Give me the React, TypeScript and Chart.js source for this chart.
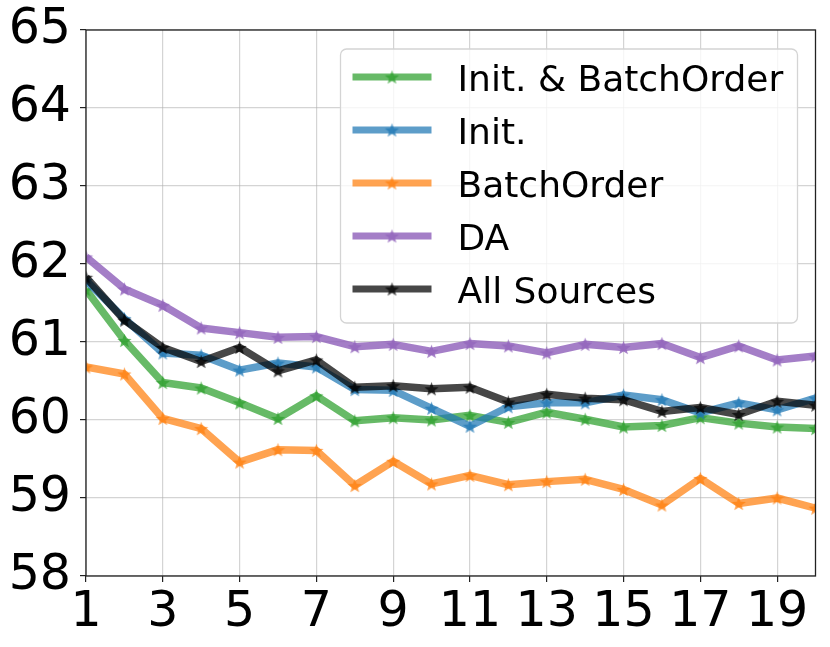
import { useEffect, useRef } from "react";
import { Chart, registerables, Plugin } from "chart.js";

Chart.register(...registerables);

const epochs = [1, 2, 3, 4, 5, 6, 7, 8, 9, 10, 11, 12, 13, 14, 15, 16, 17, 18, 19, 20];
const xTicks = [1, 3, 5, 7, 9, 11, 13, 15, 17, 19];

const initBatchOrder = [61.67, 61.02, 60.48, 60.41, 60.22, 60.02, 60.31, 59.99, 60.03, 60.0, 60.06, 59.97, 60.1, 60.01, 59.91, 59.93, 60.03, 59.96, 59.91, 59.89];
const initOnly = [61.79, 61.3, 60.86, 60.83, 60.64, 60.73, 60.68, 60.39, 60.38, 60.15, 59.92, 60.17, 60.22, 60.22, 60.32, 60.26, 60.09, 60.22, 60.13, 60.28];
const batchOrder = [60.68, 60.59, 60.02, 59.89, 59.46, 59.62, 59.61, 59.16, 59.47, 59.18, 59.29, 59.17, 59.21, 59.24, 59.11, 58.91, 59.25, 58.93, 59.0, 58.87];
const da = [62.09, 61.68, 61.47, 61.18, 61.12, 61.06, 61.07, 60.94, 60.97, 60.88, 60.98, 60.95, 60.86, 60.97, 60.93, 60.98, 60.8, 60.95, 60.77, 60.82];
const allSources = [61.83, 61.28, 60.93, 60.75, 60.93, 60.63, 60.77, 60.42, 60.44, 60.4, 60.42, 60.23, 60.33, 60.28, 60.26, 60.11, 60.16, 60.07, 60.24, 60.19];

const seriesNames = ["Init. & BatchOrder", "Init.", "BatchOrder", "DA", "All Sources"];
const seriesColors = [
  "rgba(44,160,44,0.72)",
  "rgba(31,119,180,0.72)",
  "rgba(255,127,14,0.72)",
  "rgba(148,103,189,0.85)",
  "rgba(0,0,0,0.72)",
];

const FONT = "'DejaVu Sans', sans-serif";

// filled 5-point star, like matplotlib's "*" marker
function starImage(color: string, r = 7.5) {
  const c = document.createElement("canvas");
  const s = Math.ceil(r * 2 + 2);
  c.width = s;
  c.height = s;
  const g = c.getContext("2d")!;
  g.fillStyle = color;
  g.beginPath();
  for (let k = 0; k < 10; k++) {
    const rad = k % 2 === 0 ? r : r * 0.42;
    const a = -Math.PI / 2 + (k * Math.PI) / 5;
    const px = s / 2 + rad * Math.cos(a);
    const py = s / 2 + rad * Math.sin(a) + 0.8;
    if (k === 0) g.moveTo(px, py);
    else g.lineTo(px, py);
  }
  g.closePath();
  g.fill();
  return c;
}

const frameAndLegend: Plugin<"line"> = {
  id: "frameAndLegend",
  afterDraw(chart) {
    const { ctx, chartArea } = chart;
    ctx.save();
    ctx.strokeStyle = "#222";
    ctx.lineWidth = 1.3;
    ctx.strokeRect(chartArea.left, chartArea.top, chartArea.right - chartArea.left, chartArea.bottom - chartArea.top);

    const w = 457;
    const h = 274;
    const left = chartArea.right - 18 - w;
    const top = chartArea.top + 19;
    ctx.beginPath();
    ctx.roundRect(left, top, w, h, 6);
    ctx.fillStyle = "rgba(255,255,255,0.8)";
    ctx.fill();
    ctx.strokeStyle = "#d4d4d4";
    ctx.lineWidth = 1.3;
    ctx.stroke();

    ctx.font = `36px ${FONT}`;
    ctx.textBaseline = "alphabetic";
    ctx.textAlign = "left";
    chart.data.datasets.forEach((ds, i) => {
      const y = top + 28 + i * 53;
      ctx.strokeStyle = ds.borderColor as string;
      ctx.lineWidth = 7;
      ctx.lineCap = "butt";
      ctx.beginPath();
      ctx.moveTo(left + 12, y);
      ctx.lineTo(left + 91, y);
      ctx.stroke();
      const img = ds.pointStyle as HTMLCanvasElement;
      ctx.drawImage(img, left + 51.5 - img.width / 2, y - img.height / 2);
      ctx.fillStyle = "#000";
      ctx.fillText(ds.label as string, left + 117, y + 13.5);
    });
    ctx.restore();
  },
};

export default function App() {
  const canvasRef = useRef<HTMLCanvasElement | null>(null);

  useEffect(() => {
    document.body.style.margin = "0";
    const ctx = canvasRef.current?.getContext("2d");
    if (!ctx) return;

    const values = [initBatchOrder, initOnly, batchOrder, da, allSources];
    const datasets = values.map((vals, i) => ({
      label: seriesNames[i],
      data: epochs.map((e, j) => ({ x: e, y: vals[j] })),
      borderColor: seriesColors[i],
      backgroundColor: seriesColors[i],
      borderWidth: 7.5,
      borderJoinStyle: "round" as const,
      pointStyle: starImage(seriesColors[i]),
      pointRadius: 7,
      pointHoverRadius: 7,
      tension: 0,
      clip: 0,
      order: values.length - i,
    }));

    const chart = new Chart(ctx, {
      type: "line",
      data: { datasets },
      options: {
        animation: false,
        responsive: false,
        layout: { padding: { left: 6, right: 12, top: 0, bottom: 0 } },
        plugins: { legend: { display: false }, tooltip: { enabled: false } },
        scales: {
          x: {
            type: "linear",
            min: 1,
            max: 20,
            afterBuildTicks: (axis) => {
              axis.ticks = xTicks.map((v) => ({ value: v }));
            },
            afterFit: (axis) => {
              axis.height = 71;
            },
            grid: { color: "rgba(176,176,176,0.55)", lineWidth: 1.2, tickColor: "#222", tickLength: 6 },
            border: { display: false },
            ticks: { color: "#000", font: { family: FONT, size: 49 }, padding: 2, maxRotation: 0, autoSkip: false },
          },
          y: {
            min: 58,
            max: 65,
            afterFit: (axis) => {
              axis.width = 80;
              axis.paddingTop = 30;
              axis.paddingBottom = 0;
            },
            ticks: { stepSize: 1, color: "#000", font: { family: FONT, size: 49 }, padding: 9 },
            grid: { color: "rgba(176,176,176,0.55)", lineWidth: 1.2, tickColor: "#222", tickLength: 6 },
            border: { display: false },
          },
        },
      },
      plugins: [frameAndLegend],
    });

    return () => {
      chart.destroy();
    };
  }, []);

  return <canvas ref={canvasRef} width={830} height={647}></canvas>;
}
